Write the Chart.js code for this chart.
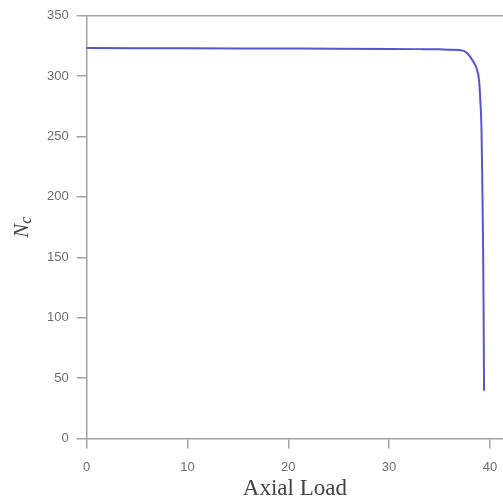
<!DOCTYPE html>
<html>
<head>
    <title>Nc vs Axial Load</title>
    <script src="https://cdn.jsdelivr.net/npm/chart.js@4.4.1/dist/chart.umd.min.js"></script>
    <style>
        html, body {
            margin: 0;
            padding: 0;
            background: #fff;
            overflow: hidden;
        }
        .graph-container {
            width: 503px;
            height: 505px;
            position: relative;
        }
    </style>
</head>
<body>
    <div class="graph-container">
        <canvas id="graph"></canvas>
    </div>

    <script>
        // Curve
        const axialLoad = [0, 5, 10, 15, 20, 25, 30, 33, 35, 36, 37, 37.7, 38.3, 38.7, 38.93, 39.05, 39.17, 39.25, 39.33, 39.38, 39.42];
        const ncValues = [323.3, 323.2, 323.1, 323.0, 322.9, 322.8, 322.6, 322.4, 322.2, 321.9, 321.6, 319.4, 312.7, 306, 296, 280, 255, 210, 155, 100, 39.5];

        const xTicks = [0, 10, 20, 30, 40];
        const yTicks = [0, 50, 100, 150, 200, 250, 300, 350];

        const axisColor = '#a3a3a3';
        const tickFont = { family: 'Liberation Sans', size: 13 };

        // top frame line and the N_c title with subscript
        const framePlugin = {
            id: 'frame',
            afterDraw(chart) {
                const { ctx, chartArea } = chart;
                ctx.save();
                ctx.strokeStyle = axisColor;
                ctx.lineWidth = 1.5;
                ctx.beginPath();
                ctx.moveTo(chartArea.left, chartArea.top);
                ctx.lineTo(chartArea.right, chartArea.top);
                ctx.stroke();

                ctx.translate(22, (chartArea.top + chartArea.bottom) / 2);
                ctx.rotate(-Math.PI / 2);
                ctx.fillStyle = '#444';
                ctx.textBaseline = 'middle';
                ctx.font = 'italic 21px "Liberation Serif"';
                const wN = ctx.measureText('N').width;
                ctx.font = 'italic 16px "Liberation Serif"';
                const wc = ctx.measureText('c').width;
                const start = -(wN + wc) / 2;
                ctx.font = 'italic 21px "Liberation Serif"';
                ctx.fillText('N', start, 0);
                ctx.font = 'italic 16px "Liberation Serif"';
                ctx.fillText('c', start + wN, 5);
                ctx.restore();
            }
        };

        const ctx = document.getElementById('graph').getContext('2d');
        const chart = new Chart(ctx, {
            type: 'line',
            data: {
                datasets: [{
                    data: axialLoad.map((x, i) => ({ x: x, y: ncValues[i] })),
                    borderColor: '#5454d6',
                    borderWidth: 2,
                    pointRadius: 0,
                    cubicInterpolationMode: 'monotone',
                    fill: false
                }]
            },
            options: {
                responsive: true,
                maintainAspectRatio: false,
                animation: false,
                layout: {
                    padding: { left: 39, top: 15, right: 0, bottom: 2 }
                },
                plugins: {
                    legend: { display: false },
                    tooltip: { enabled: false }
                },
                scales: {
                    x: {
                        type: 'linear',
                        min: 0,
                        max: 41.3,
                        afterBuildTicks: scale => {
                            scale.ticks = xTicks.map(v => ({ value: v }));
                        },
                        grid: {
                            drawOnChartArea: false,
                            tickLength: 10,
                            color: axisColor,
                            lineWidth: 1.5
                        },
                        border: { display: true, color: axisColor, width: 1.5 },
                        ticks: {
                            font: { family: 'Liberation Sans', size: 13, lineHeight: 2.5 },
                            color: '#6e6e6e',
                            padding: 3,
                            maxRotation: 0
                        },
                        title: {
                            display: true,
                            text: 'Axial Load',
                            color: '#444',
                            font: { family: 'Liberation Serif', size: 23 },
                            padding: { top: -11.5, bottom: 0 }
                        }
                    },
                    y: {
                        type: 'linear',
                        min: 0,
                        max: 350,
                        afterBuildTicks: scale => {
                            scale.ticks = yTicks.map(v => ({ value: v }));
                        },
                        grid: {
                            drawOnChartArea: false,
                            tickLength: 10,
                            color: axisColor,
                            lineWidth: 1.5
                        },
                        border: { display: true, color: axisColor, width: 1.5 },
                        ticks: { font: tickFont, color: '#6e6e6e', padding: 8 }
                    }
                }
            },
            plugins: [framePlugin]
        });
    </script>
</body>
</html>
